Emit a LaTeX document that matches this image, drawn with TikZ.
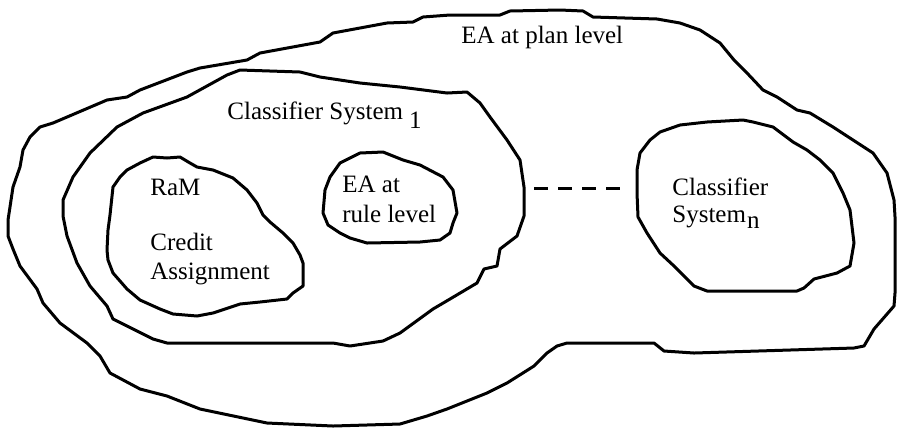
\documentclass[tikz,border=0pt]{standalone}
\usepackage{fontspec}
\setmainfont{Liberation Serif}
\begin{document}
\begin{tikzpicture}[x=0.5pt,y=-0.5pt,
  region/.style={line width=1.5pt,line join=round,line cap=round},
  label/.style={anchor=base west,inner sep=0pt,font=\fontsize{12.5}{15}\selectfont},
  link/.style={line width=1.5pt,dash pattern=on 7pt off 5pt}]
\useasboundingbox (0,0) rectangle (897,436);

% outer region: EA at plan level
\draw[region] (8,220) -- (10,207) -- (13,187) -- (20,167) -- (23,150) -- (30,137) -- (40,127)
  -- (53,123) -- (107,100) -- (127,97) -- (140,90) -- (187,72) -- (200,68) -- (247,60)
  -- (260,53) -- (320,42) -- (333,33) -- (387,23) -- (413,22) -- (423,17) -- (450,15)
  -- (500,15) -- (510,11) -- (560,10) -- (583,11) -- (593,17) -- (657,19) -- (680,23)
  -- (700,30) -- (720,43) -- (734,60) -- (747,73) -- (763,90) -- (777,97) -- (797,110)
  -- (810,113) -- (833,127) -- (853,140) -- (873,153) -- (887,173) -- (894,200)
  -- (895,217) -- (895,293) -- (894,306) -- (874,329) -- (864,346) -- (854,348)
  -- (694,353) -- (664,351) -- (654,343) -- (567,343) -- (557,346) -- (547,353)
  -- (534,366) -- (507,383) -- (487,393) -- (447,409) -- (427,416) -- (400,424)
  -- (333,426) -- (267,423) -- (200,409) -- (167,396) -- (140,389) -- (110,373)
  -- (100,356) -- (87,343) -- (60,323) -- (43,303) -- (37,289) -- (20,266)
  -- (13,249) -- (8,236) -- cycle;

% Classifier System 1
\draw[region] (63,216) -- (63,200) -- (73,177) -- (90,153) -- (117,127) -- (143,113)
  -- (187,97) -- (227,75) -- (240,70) -- (300,72) -- (320,77) -- (360,83) -- (400,87)
  -- (447,93) -- (467,92) -- (480,103) -- (490,117) -- (507,140) -- (520,160)
  -- (524,187) -- (524,216) -- (517,236) -- (500,249) -- (497,266) -- (484,269)
  -- (477,283) -- (450,299) -- (433,309) -- (400,333) -- (383,341) -- (350,346)
  -- (333,343) -- (167,343) -- (153,339) -- (113,319) -- (107,306) -- (90,286)
  -- (77,263) -- (67,236) -- cycle;

% RaM / credit assignment
\draw[region] (107,250) -- (108,230) -- (110,215) -- (113,187) -- (120,177) -- (127,170)
  -- (140,163) -- (153,157) -- (167,158) -- (180,157) -- (190,163) -- (197,167)
  -- (213,170) -- (233,178) -- (247,190) -- (257,203) -- (263,215) -- (270,222)
  -- (283,233) -- (293,243) -- (300,255) -- (303,263) -- (303,286) -- (293,293)
  -- (287,299) -- (260,302) -- (240,304) -- (213,313) -- (197,316) -- (173,314)
  -- (160,309) -- (140,300) -- (127,289) -- (113,273) -- (108,260) -- cycle;

% EA at rule level
\draw[region] (325,190) -- (330,177) -- (340,163) -- (360,153) -- (383,152) -- (403,160)
  -- (420,165) -- (443,177) -- (453,190) -- (457,213) -- (453,223) -- (450,233)
  -- (440,240) -- (420,242) -- (367,243) -- (350,238) -- (340,233) -- (328,225)
  -- (323,213) -- cycle;

% Classifier System n
\draw[region] (637,193) -- (637,170) -- (640,153) -- (650,140) -- (660,132) -- (680,125)
  -- (707,122) -- (743,120) -- (753,122) -- (773,127) -- (793,142) -- (807,150)
  -- (820,160) -- (833,173) -- (843,193) -- (850,210) -- (854,243) -- (850,266)
  -- (837,273) -- (814,279) -- (804,288) -- (797,291) -- (707,291) -- (694,286)
  -- (674,266) -- (660,253) -- (647,233) -- (638,217) -- cycle;

% dashed link between the classifier systems
\coordinate (linkA) at (534,188);
\coordinate (linkB) at (624,188);
\draw[link] (linkA) -- (linkB);

% labels
\node[label] (plan) at (461,43) {EA at plan level};
\node[label] (cs1) at (227,119) {Classifier System\hspace{3pt}\raisebox{-4.5pt}{1}};
\node[label] (ram) at (150,195) {RaM};
\node[label] (ca1) at (150,250) {Credit};
\node[label] (ca2) at (150,279) {Assignment};
\node[label] (rule1) at (342,192) {EA at};
\node[label] (rule2) at (342,222) {rule level};
\node[label] (csn1) at (672,195) {Classifier};
\node[label] (csn2) at (672,222) {System\hspace{0.5pt}\raisebox{-3pt}{n}};
\end{tikzpicture}
\end{document}
